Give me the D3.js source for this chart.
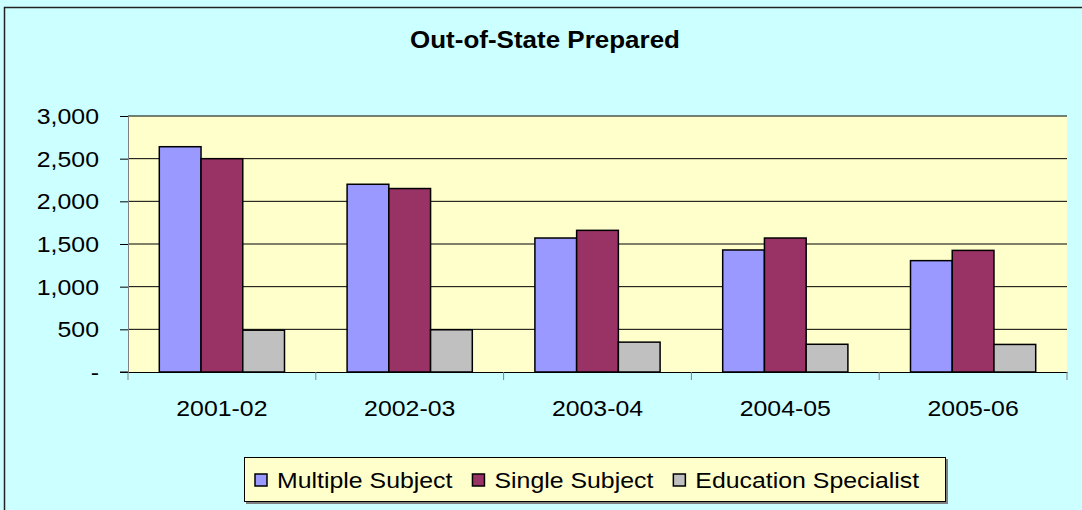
<!DOCTYPE html>
<html><head><meta charset="utf-8">
<script src="https://cdn.jsdelivr.net/npm/d3@7"></script>
<style>body{margin:0;background:#ccffff;}svg{display:block;font-family:"Liberation Sans",Arial,sans-serif;}</style>
</head><body>
<svg id="c" width="1082" height="510"></svg>
<script>
const title = "Out-of-State Prepared";
const categories = ["2001-02","2002-03","2003-04","2004-05","2005-06"];
const seriesNames = ["Multiple Subject","Single Subject","Education Specialist"];
const multipleSubject = [2640, 2200, 1570, 1430, 1305];
const singleSubject = [2500, 2150, 1660, 1570, 1425];
const educationSpecialist = [490, 495, 350, 325, 323];
const yTicks = [0, 500, 1000, 1500, 2000, 2500, 3000];
const colors = ["#9999ff", "#993366", "#c0c0c0"];

const series = [multipleSubject, singleSubject, educationSpecialist];
const SX = 1.13; // horizontal text stretch seen in reference
const svg = d3.select("#c");
const L = 128, R = 1067, T = 116, B = 372;

svg.append("rect").attr("x",0).attr("y",0).attr("width",1082).attr("height",510).attr("fill","#ccffff");
svg.append("rect").attr("x",4.5).attr("y",7.5).attr("width",1100).attr("height",520)
  .attr("fill","none").attr("stroke","#222").attr("stroke-width",1.5);

function txt(g, x, y, s, size, anchor, weight){
  return g.append("text").attr("transform",`translate(${x},${y}) scale(${SX},1)`)
    .attr("text-anchor",anchor).attr("font-size",size).attr("font-weight",weight||"normal")
    .attr("fill","#000").text(s);
}

const x0 = d3.scaleBand().domain(categories).range([L, R]).paddingInner(0).paddingOuter(0);
const bw = x0.bandwidth() / 4.5;
const x1 = d3.scaleBand().domain(d3.range(3)).range([0.75*bw, 3.75*bw]);
const y = d3.scaleLinear().domain([0, 3000]).range([B, T]);

svg.append("rect").attr("x",L).attr("y",T).attr("width",R-L).attr("height",B-T).attr("fill","#ffffcc");

// gridlines
svg.append("g").selectAll("line").data(yTicks.filter(d=>d>0)).join("line")
  .attr("x1",L).attr("x2",R).attr("y1",d=>y(d)).attr("y2",d=>y(d))
  .attr("stroke","#000").attr("stroke-width",1);

// y axis
const ya = svg.append("g").attr("transform",`translate(${L},0)`)
  .call(d3.axisLeft(y).tickValues(yTicks).tickSize(8).tickFormat(()=>""));
ya.select(".domain").attr("stroke","#808080");
ya.selectAll(".tick line").attr("stroke","#000");
yTicks.forEach(v=>{
  txt(svg, 99, y(v)+8, v===0 ? "-" : d3.format(",")(v), 22, "end");
});

// bars
const g = svg.append("g");
categories.forEach((c,i)=>{
  series.forEach((s,j)=>{
    g.append("rect").attr("x",x0(c)+x1(j)).attr("y",y(s[i]))
      .attr("width",x1.bandwidth()).attr("height",y(0)-y(s[i]))
      .attr("fill",colors[j]).attr("stroke","#000").attr("stroke-width",1.5);
  });
});

// x axis
const xa = svg.append("g").attr("transform",`translate(0,${B})`)
  .call(d3.axisBottom(x0).tickSize(0).tickFormat(()=>""));
xa.select(".domain").attr("stroke","#000");
const edges = categories.map(c=>x0(c)).concat([R]);
svg.append("g").selectAll("line").data(edges).join("line")
  .attr("x1",d=>d).attr("x2",d=>d).attr("y1",B).attr("y2",B+8).attr("stroke","#808080");
svg.append("line").attr("x1",L-8).attr("x2",L).attr("y1",B).attr("y2",B).attr("stroke","#000");
categories.forEach(c=>{
  txt(svg, x0(c)+x0.bandwidth()/2, 416, c, 22, "middle");
});

// title
txt(svg, 545, 48, title, 23, "middle", "bold");

// legend
const lg = svg.append("g");
lg.append("rect").attr("x",246).attr("y",459).attr("width",702).attr("height",45).attr("fill","#808080");
lg.append("rect").attr("x",244.5).attr("y",457.5).attr("width",701).attr("height",44)
  .attr("fill","#ffffcc").attr("stroke","#000").attr("stroke-width",1);
let lx = 255;
seriesNames.forEach((n,j)=>{
  lg.append("rect").attr("x",lx).attr("y",474).attr("width",12).attr("height",12)
    .attr("fill",colors[j]).attr("stroke","#000").attr("stroke-width",1.5);
  const t = txt(lg, lx+22, 488, n, 22, "start");
  const w = t.node().getComputedTextLength()*SX;
  lx += 22 + w + 20;
});
</script>
</body></html>
